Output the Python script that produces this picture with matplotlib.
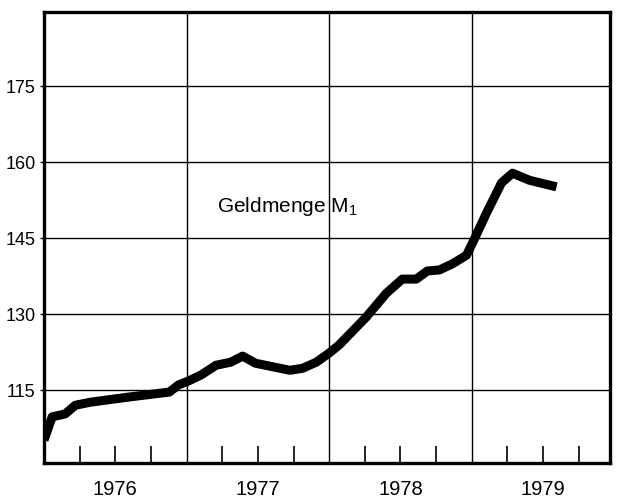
import matplotlib
matplotlib.use("Agg")
import matplotlib.pyplot as plt

# Geldmenge M1 (decimal year, index value)
dates = [1976.000, 1976.057, 1976.149, 1976.220, 1976.326, 1976.589, 1976.879, 1976.943,
         1977.014, 1977.103, 1977.207, 1977.310, 1977.393, 1977.483, 1977.586, 1977.724,
         1977.814, 1977.910, 1978.000, 1978.070, 1978.260, 1978.401, 1978.513, 1978.611,
         1978.689, 1978.773, 1978.864, 1978.963, 1979.005, 1979.103, 1979.209, 1979.286,
         1979.405, 1979.595]
values = [105.1, 109.7, 110.3, 112.0, 112.6, 113.6, 114.6, 116.0,
          116.8, 118.0, 119.9, 120.5, 121.7, 120.3, 119.7, 118.9,
          119.3, 120.5, 122.3, 123.9, 129.4, 134.1, 136.9, 136.9,
          138.5, 138.7, 139.9, 141.6, 144.0, 149.9, 155.9, 157.8,
          156.4, 155.1]

years = [1976, 1977, 1978, 1979]
year_labels = ["1976", "1977", "1978", "1979"]
y_ticks = [115, 130, 145, 160, 175]
series_label = "Geldmenge M$_1$"

plt.rcParams['font.family'] = ['Liberation Sans', 'DejaVu Sans']
plt.rcParams['mathtext.fontset'] = 'custom'
plt.rcParams['mathtext.rm'] = 'Liberation Sans'

fig = plt.figure(figsize=(6.17, 5.03), dpi=100)
ax = fig.add_axes([0.0713, 0.0795, 0.9174, 0.8965])

ax.set_xlim(1976, 1979.97)
ax.set_ylim(100.6, 189.6)

# grid
for y in y_ticks:
    ax.axhline(y, color='black', lw=1.0, zorder=1)
for yr in years[1:]:
    ax.axvline(yr, color='black', lw=1.0, zorder=1)

ax.plot(dates, values, color='black', lw=6.5, solid_joinstyle='round',
        solid_capstyle='butt', zorder=3)

ax.text(1977.215, 150.1, series_label, fontsize=15, va='baseline', ha='left')

# axes frame
for s in ax.spines.values():
    s.set_linewidth(2.4)

ax.set_yticks(y_ticks)
ax.set_yticklabels([str(v) for v in y_ticks])
ax.tick_params(axis='y', direction='out', length=3, width=1, pad=3, labelsize=13)

# quarter ticks inside, year labels in the middle of each year
quarters = [yr + q for yr in years for q in (0.25, 0.5, 0.75)]
ax.set_xticks(quarters)
ax.set_xticklabels([])
ax.tick_params(axis='x', which='major', direction='in', length=12, width=1.2)
ax.xaxis.remove_overlapping_locs = False
ax.set_xticks([yr + 0.5 for yr in years], minor=True)
ax.set_xticklabels(year_labels, minor=True)
ax.tick_params(axis='x', which='minor', length=0, pad=12, labelsize=14.5)

fig.savefig("out.png", dpi=100)
